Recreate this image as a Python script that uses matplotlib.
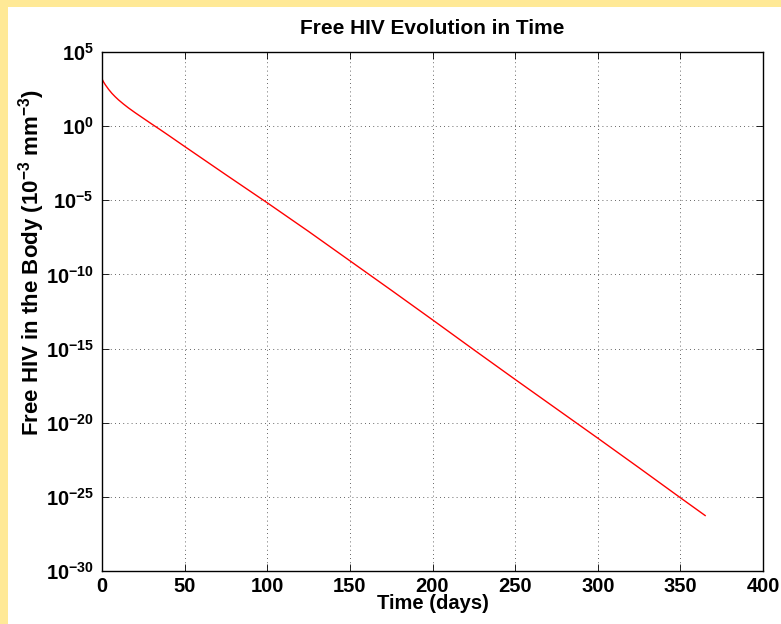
import numpy as np
import matplotlib
matplotlib.use("Agg")
import matplotlib.pyplot as plt
from matplotlib.ticker import FixedLocator, FuncFormatter
from matplotlib.patches import Rectangle

plt.rcParams['font.family'] = ['Liberation Sans', 'DejaVu Sans']
plt.rcParams['font.weight'] = 'bold'
plt.rcParams['mathtext.fontset'] = 'custom'
plt.rcParams['mathtext.rm'] = 'Liberation Sans:bold'
plt.rcParams['mathtext.bf'] = 'Liberation Sans:bold'
plt.rcParams['mathtext.it'] = 'Liberation Sans:bold'
plt.rcParams['mathtext.default'] = 'bf'

# Data: time (days) and log10 of free HIV
time_days = [0, 1, 2, 4, 6, 8, 10, 13, 16, 20, 25, 30, 35, 40, 50, 75, 100, 125, 150,
             175, 200, 225, 250, 275, 300, 325, 350, 365]
log10_hiv = [3.18, 2.97, 2.79, 2.48, 2.21, 1.98, 1.77, 1.49, 1.23, 0.91, 0.53, 0.15, -0.22,
             -0.60, -1.37, -3.28, -5.17, -7.10, -9.08, -11.06, -13.06, -15.08, -17.08,
             -19.06, -21.04, -23.04, -25.06, -26.26]
hiv_values = [10.0 ** v for v in log10_hiv]

x_ticks = [0, 50, 100, 150, 200, 250, 300, 350, 400]
y_exponents = [5, 0, -5, -10, -15, -20, -25, -30]

title = "Free HIV Evolution in Time"
xlabel = "Time (days)"
ylabel = r"Free HIV in the Body (10$^{-3}$ mm$^{-3}$)"

W, H = 781, 624
fig = plt.figure(figsize=(W / 100, H / 100), dpi=100)
fig.patch.set_facecolor('#FFE996')
fig.patches.append(Rectangle((8 / W, 0), 1 - 8 / W, 1 - 7 / H, transform=fig.transFigure,
                             facecolor='white', edgecolor='none', zorder=-10))

ax = fig.add_axes([102 / W, 1 - 571 / H, (763 - 102) / W, (571 - 52) / H])
ax.semilogy(time_days, hiv_values, color='red', linewidth=1.0)

ax.set_xlim(0, 400)
ax.set_ylim(1e-30, 1e5)
ax.xaxis.set_major_locator(FixedLocator(x_ticks))
ax.yaxis.set_major_locator(FixedLocator([10.0 ** e for e in y_exponents]))
ax.yaxis.set_minor_locator(FixedLocator([]))
ax.yaxis.set_major_formatter(FuncFormatter(lambda v, p: r"$10^{%d}$" % int(round(np.log10(v)))))
ax.xaxis.set_major_formatter(FuncFormatter(lambda v, p: "%d" % v))

ax.tick_params(axis='both', which='major', direction='in', length=5, width=0.6,
               top=True, right=True, labelsize=14.5, colors='black')
ax.tick_params(axis='x', pad=4)
ax.tick_params(axis='y', pad=6)
for lab in ax.get_xticklabels() + ax.get_yticklabels():
    lab.set_fontweight('bold')

ax.grid(True, which='major', linestyle=(0, (1, 4)), color='black', linewidth=0.6, alpha=0.8)
for s in ax.spines.values():
    s.set_linewidth(1.0)
    s.set_color('black')

ax.set_title(title, fontsize=15, fontweight='bold', pad=13)
ax.set_xlabel(xlabel, fontsize=14.5, fontweight='bold', labelpad=-1)
ax.set_ylabel(ylabel, fontsize=16, fontweight='bold')
ax.yaxis.set_label_coords(-0.083, 0.595)

fig.savefig("out.png", dpi=100, facecolor=fig.get_facecolor())
